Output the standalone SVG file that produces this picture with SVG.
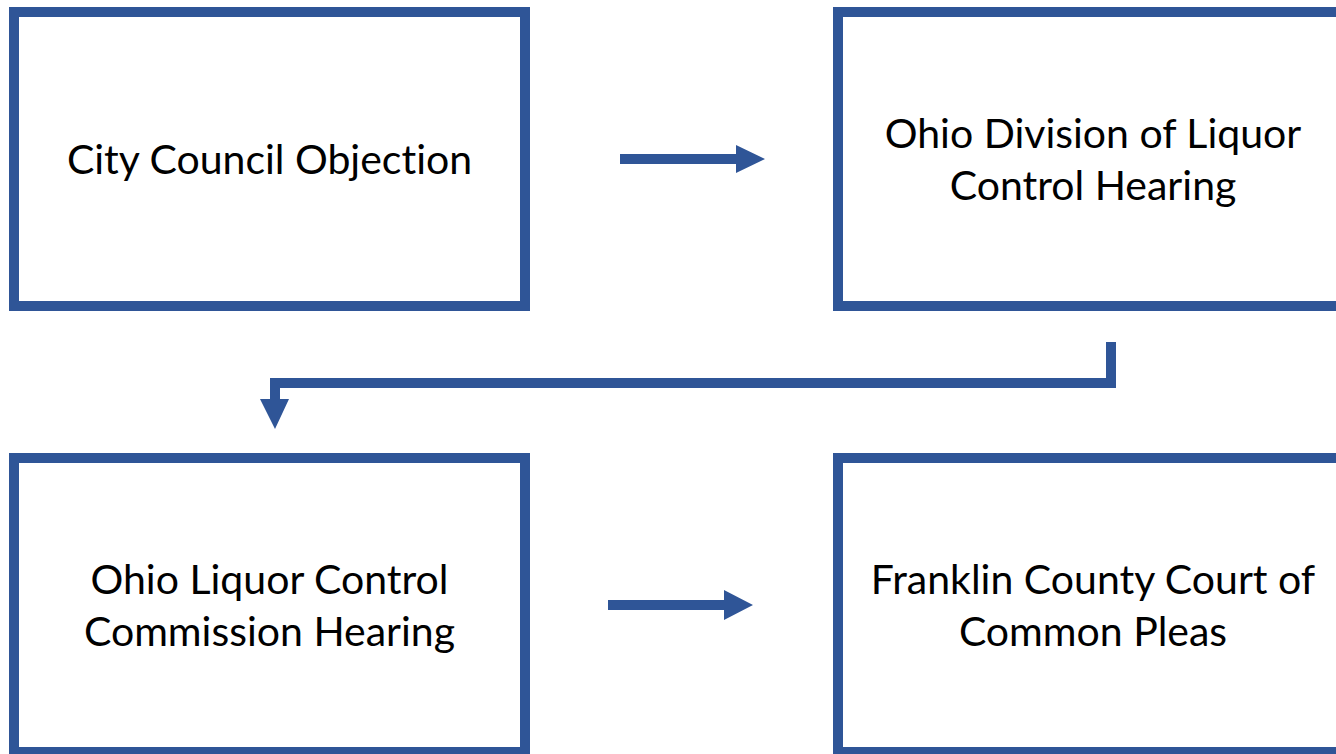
<svg xmlns="http://www.w3.org/2000/svg" width="1336" height="754" viewBox="0 0 1336 754">
<style>
.box{fill:#FFFFFF;stroke:#2F5597;stroke-width:10}
.lbl{font-family:Lato,"Open Sans","Liberation Sans",sans-serif;font-size:41px;fill:#000000;text-anchor:middle;font-variant-ligatures:none;font-feature-settings:"liga" 0,"dlig" 0}
.con{fill:#2F5597}
</style>
<rect width="1336" height="754" fill="#FFFFFF"/>
<g id="node-city-council">
<rect class="box" x="14" y="12" width="511" height="294"/>
<text class="lbl" x="269.5" y="174">City Council Objection</text>
</g>
<g id="node-division">
<rect class="box" x="838" y="12" width="511" height="294"/>
<text class="lbl" x="1093" y="148">Ohio Division of Liquor</text>
<text class="lbl" x="1093" y="200">Control Hearing</text>
</g>
<g id="node-commission">
<rect class="box" x="14" y="458" width="511" height="294"/>
<text class="lbl" x="269.5" y="594">Ohio Liquor Control</text>
<text class="lbl" x="269.5" y="646">Commission Hearing</text>
</g>
<g id="node-court">
<rect class="box" x="838" y="458" width="511" height="294"/>
<text class="lbl" x="1093" y="594">Franklin County Court of</text>
<text class="lbl" x="1093" y="646">Common Pleas</text>
</g>
<g id="connectors">
<polygon class="con" points="620,154 736,154 736,145 765,159 736,173 736,164 620,164"/>
<polygon class="con" points="1106,342 1116,342 1116,388 280,388 280,399 289,399 275,429 260,399 270,399 270,378 1106,378"/>
<polygon class="con" points="608,600 724,600 724,590 753,605 724,620 724,610 608,610"/>
</g>
</svg>
